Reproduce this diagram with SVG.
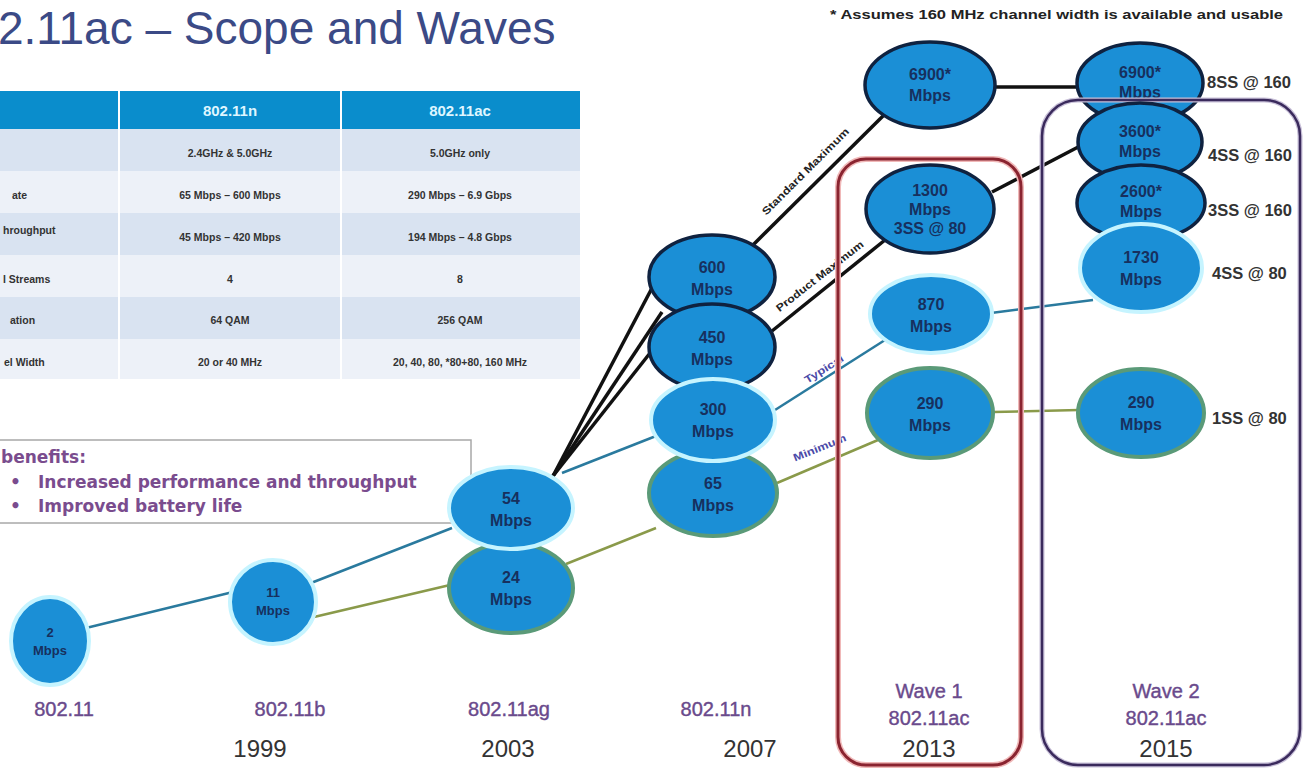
<svg xmlns="http://www.w3.org/2000/svg" width="1308" height="771" viewBox="0 0 1308 771">
<defs>
<style>
.t{font-family:"Liberation Sans",Arial,sans-serif}
.nd{fill:#1b8fd6}
.dk{stroke:#0f2240;stroke-width:3.5}
.cy{stroke:#c6f4ff;stroke-width:4}
.gr{stroke:#5a9a78;stroke-width:4}
.nt{font-family:"Liberation Sans",Arial,sans-serif;font-size:16px;font-weight:bold;fill:#17305e;text-anchor:middle}
.ns{font-family:"Liberation Sans",Arial,sans-serif;font-size:13px;font-weight:bold;fill:#17305e;text-anchor:middle}
.tc{font-family:"Liberation Sans",Arial,sans-serif;font-size:10.5px;font-weight:bold;fill:#333;text-anchor:middle}
.tl{font-family:"Liberation Sans",Arial,sans-serif;font-size:10.5px;font-weight:bold;fill:#333}
.ss{font-family:"Liberation Sans",Arial,sans-serif;font-size:16.5px;font-weight:bold;fill:#333}
.std{font-family:"Liberation Sans",Arial,sans-serif;font-size:20px;fill:#6a4a8c;stroke:#6a4a8c;stroke-width:0.4;text-anchor:middle}
.yr{font-family:"Liberation Sans",Arial,sans-serif;font-size:24px;fill:#333;text-anchor:middle}
.lb{font-family:"Liberation Sans",Arial,sans-serif;font-size:10.5px;font-weight:bold}
.blk{stroke:#111;stroke-width:3.5;fill:none}
.blu{stroke:#2a7a9e;stroke-width:2.5;fill:none}
.grn{stroke:#8a9a4a;stroke-width:2.5;fill:none}
.bn{font-family:"DejaVu Sans",Verdana,sans-serif;font-size:17px;font-weight:bold;fill:#7a4c8e}
</style>
</defs>
<rect width="1308" height="771" fill="#ffffff"/>

<text class="t" x="-2" y="44" font-size="46" fill="#3b4a86">2.11ac – Scope and Waves</text>
<text class="t" x="830" y="19" font-size="13" font-weight="bold" fill="#222" textLength="453" lengthAdjust="spacingAndGlyphs">* Assumes 160 MHz channel width is available and usable</text>

<g id="table">
<rect x="0" y="91" width="580" height="38" fill="#0a8dcc"/>
<rect x="0" y="129" width="580" height="42" fill="#d9e3f1"/>
<rect x="0" y="171" width="580" height="42" fill="#edf1f8"/>
<rect x="0" y="213" width="580" height="42" fill="#d9e3f1"/>
<rect x="0" y="255" width="580" height="42" fill="#edf1f8"/>
<rect x="0" y="297" width="580" height="42" fill="#d9e3f1"/>
<rect x="0" y="339" width="580" height="40" fill="#edf1f8"/>
<line x1="119" y1="91" x2="119" y2="379" stroke="#ffffff" stroke-width="2"/>
<line x1="341" y1="91" x2="341" y2="379" stroke="#ffffff" stroke-width="2"/>
<text class="t" x="230" y="116" font-size="15" font-weight="bold" fill="#dff6ff" text-anchor="middle">802.11n</text>
<text class="t" x="460" y="116" font-size="15" font-weight="bold" fill="#dff6ff" text-anchor="middle">802.11ac</text>
<text class="tc" x="230" y="157">2.4GHz &amp; 5.0GHz</text>
<text class="tc" x="460" y="157">5.0GHz only</text>
<text class="tl" x="12" y="199">ate</text>
<text class="tc" x="230" y="199">65 Mbps – 600 Mbps</text>
<text class="tc" x="460" y="199">290 Mbps – 6.9 Gbps</text>
<text class="tl" x="3" y="234">hroughput</text>
<text class="tc" x="230" y="241">45 Mbps – 420 Mbps</text>
<text class="tc" x="460" y="241">194 Mbps – 4.8 Gbps</text>
<text class="tl" x="3" y="283">l Streams</text>
<text class="tc" x="230" y="283">4</text>
<text class="tc" x="460" y="283">8</text>
<text class="tl" x="10" y="324">ation</text>
<text class="tc" x="230" y="324">64 QAM</text>
<text class="tc" x="460" y="324">256 QAM</text>
<text class="tl" x="4" y="366">el Width</text>
<text class="tc" x="230" y="366">20 or 40 MHz</text>
<text class="tc" x="460" y="366">20, 40, 80, *80+80, 160 MHz</text>
</g>

<g id="benefits">
<rect x="-2" y="440" width="473" height="83" fill="#ffffff" stroke="#a8a8a8" stroke-width="1.5"/>
<text class="bn" x="1" y="463" font-size="16" fill="#5a3f7e">benefits:</text>
<text class="bn" x="10" y="488">•</text>
<text class="bn" x="38" y="488">Increased performance and throughput</text>
<text class="bn" x="10" y="512">•</text>
<text class="bn" x="38" y="512">Improved battery life</text>
</g>

<g id="connectors">
<line class="blu" x1="86" y1="628" x2="233" y2="592"/>
<line class="blu" x1="311" y1="583" x2="452" y2="528"/>
<line class="grn" x1="314" y1="617" x2="450" y2="585"/>
<line class="blk" x1="553" y1="476" x2="652" y2="288"/>
<line class="blk" x1="553" y1="476" x2="662" y2="312"/>
<line class="blk" x1="553" y1="476" x2="654" y2="348"/>
<line class="blu" x1="562" y1="473" x2="656" y2="436"/>
<line class="grn" x1="566" y1="564" x2="656" y2="528"/>
<line class="blk" x1="752" y1="246" x2="886" y2="113"/>
<line class="blk" x1="772" y1="331" x2="885" y2="240"/>
<line class="blu" x1="775" y1="410" x2="885" y2="340"/>
<line class="grn" x1="777" y1="483" x2="878" y2="440"/>
<line class="blu" x1="991" y1="313" x2="1093" y2="300"/>
<line class="grn" x1="993" y1="412" x2="1079" y2="410"/>
<line class="blk" x1="995" y1="87" x2="1080" y2="87"/>
<line class="blk" x1="992" y1="192" x2="1082" y2="145"/>
<text class="lb" fill="#222" transform="translate(808,174) rotate(-45)" text-anchor="middle" textLength="118" lengthAdjust="spacingAndGlyphs">Standard Maximum</text>
<text class="lb" fill="#222" transform="translate(822,279) rotate(-38)" text-anchor="middle" textLength="108" lengthAdjust="spacingAndGlyphs">Product Maximum</text>
<text class="lb" fill="#4a4aa8" transform="translate(826,372) rotate(-32)" text-anchor="middle" textLength="44" lengthAdjust="spacingAndGlyphs">Typical</text>
<text class="lb" fill="#4a4aa8" transform="translate(821,451) rotate(-22)" text-anchor="middle" textLength="56" lengthAdjust="spacingAndGlyphs">Minimum</text>
</g>

<g id="wave1-box">
<rect x="838" y="159" width="183" height="606" rx="28" fill="none" stroke="#f0b8b8" stroke-width="6"/>
<rect x="838" y="159" width="183" height="606" rx="28" fill="none" stroke="#8a2430" stroke-width="3"/>
</g>

<g id="n2"><ellipse class="nd cy" cx="50" cy="641" rx="39" ry="44"/><text class="ns" x="50" y="637">2</text><text class="ns" x="50" y="655">Mbps</text></g>
<g id="n11"><ellipse class="nd cy" cx="273" cy="602" rx="43" ry="42"/><text class="ns" x="273" y="597">11</text><text class="ns" x="273" y="615">Mbps</text></g>
<g id="n24"><ellipse class="nd gr" cx="511" cy="588" rx="62" ry="45"/><text class="nt" x="511" y="583">24</text><text class="nt" x="511" y="605">Mbps</text></g>
<g id="n54"><ellipse class="nd cy" cx="511" cy="508" rx="62" ry="41"/><text class="nt" x="511" y="504">54</text><text class="nt" x="511" y="526">Mbps</text></g>
<g id="n600"><ellipse class="nd dk" cx="712" cy="277" rx="63" ry="42"/><text class="nt" x="712" y="273">600</text><text class="nt" x="712" y="295">Mbps</text></g>
<g id="n450"><ellipse class="nd dk" cx="712" cy="347" rx="63" ry="43"/><text class="nt" x="712" y="343">450</text><text class="nt" x="712" y="365">Mbps</text></g>
<g id="n65"><ellipse class="nd gr" cx="713" cy="493" rx="64" ry="43"/><text class="nt" x="713" y="489">65</text><text class="nt" x="713" y="511">Mbps</text></g>
<g id="n300"><ellipse class="nd cy" cx="713" cy="420" rx="62" ry="41"/><text class="nt" x="713" y="415">300</text><text class="nt" x="713" y="437">Mbps</text></g>
<g id="n6900a"><ellipse class="nd dk" cx="930" cy="85" rx="65" ry="43"/><text class="nt" x="930" y="80">6900*</text><text class="nt" x="930" y="101">Mbps</text></g>
<g id="n1300"><ellipse class="nd dk" cx="930" cy="209" rx="64" ry="44"/><text class="nt" x="930" y="196" font-size="15">1300</text><text class="nt" x="930" y="215" font-size="15">Mbps</text><text class="nt" x="930" y="234" font-size="15">3SS @ 80</text></g>
<g id="n870"><ellipse class="nd cy" cx="931" cy="314" rx="61" ry="39"/><text class="nt" x="931" y="310">870</text><text class="nt" x="931" y="332">Mbps</text></g>
<g id="n290a"><ellipse class="nd gr" cx="930" cy="413" rx="63" ry="45"/><text class="nt" x="930" y="409">290</text><text class="nt" x="930" y="431">Mbps</text></g>
<g id="n6900b"><ellipse class="nd dk" cx="1140" cy="83" rx="63" ry="40"/><text class="nt" x="1140" y="78">6900*</text><text class="nt" x="1140" y="98">Mbps</text></g>

<g id="wave2-box">
<rect x="1042" y="100" width="258" height="665" rx="36" fill="none" stroke="#c8c0d8" stroke-width="5"/>
<rect x="1042" y="100" width="258" height="665" rx="36" fill="none" stroke="#3a2a5c" stroke-width="2.5"/>
</g>

<g id="n3600"><ellipse class="nd dk" cx="1140" cy="142" rx="62" ry="39"/><text class="nt" x="1140" y="137">3600*</text><text class="nt" x="1140" y="157">Mbps</text></g>
<g id="n2600"><ellipse class="nd dk" cx="1141" cy="203" rx="64" ry="38"/><text class="nt" x="1141" y="197">2600*</text><text class="nt" x="1141" y="217">Mbps</text></g>
<g id="n1730"><ellipse class="nd cy" cx="1141" cy="268" rx="61" ry="44"/><text class="nt" x="1141" y="263">1730</text><text class="nt" x="1141" y="285">Mbps</text></g>
<g id="n290b"><ellipse class="nd gr" cx="1141" cy="413" rx="63" ry="44"/><text class="nt" x="1141" y="408">290</text><text class="nt" x="1141" y="430">Mbps</text></g>

<g id="ss-labels">
<text class="ss" x="1207" y="88">8SS @ 160</text>
<text class="ss" x="1208" y="161">4SS @ 160</text>
<text class="ss" x="1208" y="216">3SS @ 160</text>
<text class="ss" x="1212" y="279">4SS @ 80</text>
<text class="ss" x="1212" y="424">1SS @ 80</text>
</g>

<g id="axis-labels">
<text class="std" x="64" y="716">802.11</text>
<text class="std" x="290" y="716">802.11b</text>
<text class="std" x="509" y="716">802.11ag</text>
<text class="std" x="716" y="716">802.11n</text>
<text class="std" x="929" y="698">Wave 1</text>
<text class="std" x="929" y="725">802.11ac</text>
<text class="std" x="1166" y="698">Wave 2</text>
<text class="std" x="1166" y="725">802.11ac</text>
<text class="yr" x="260" y="757">1999</text>
<text class="yr" x="508" y="757">2003</text>
<text class="yr" x="750" y="757">2007</text>
<text class="yr" x="929" y="757">2013</text>
<text class="yr" x="1166" y="757">2015</text>
</g>
</svg>
